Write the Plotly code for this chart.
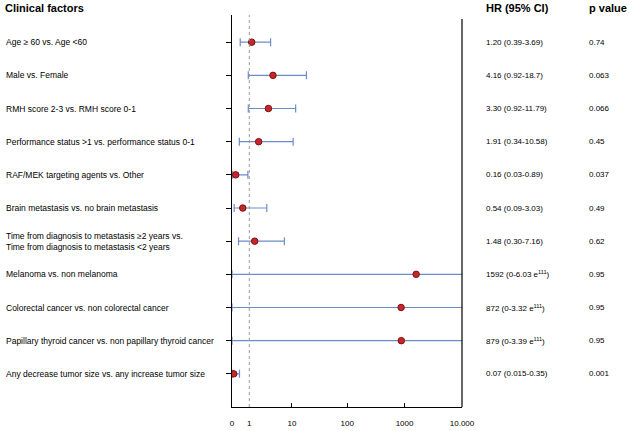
import plotly.graph_objects as go

factors = [
    "Age \u2265 60 vs. Age <60",
    "Male vs. Female",
    "RMH score 2-3 vs. RMH score 0-1",
    "Performance status >1 vs. performance status 0-1",
    "RAF/MEK targeting agents vs. Other",
    "Brain metastasis vs. no brain metastasis",
    "Time from diagnosis to metastasis \u22652 years vs.<br>Time from diagnosis to metastasis <2 years",
    "Melanoma vs. non melanoma",
    "Colorectal cancer vs. non colorectal cancer",
    "Papillary thyroid cancer vs. non papillary thyroid cancer",
    "Any decrease tumor size vs. any increase tumor size",
]
hr = [1.20, 4.16, 3.30, 1.91, 0.16, 0.54, 1.48, 1592, 872, 879, 0.07]
ci_low = [0.39, 0.92, 0.92, 0.34, 0.03, 0.09, 0.30, 0, 0, 0, 0.015]
ci_high = [3.69, 18.7, 11.79, 10.58, 0.89, 3.03, 7.16, 6.03e111, 3.32e111, 3.39e111, 0.35]
hr_text = [
    "1.20 (0.39-3.69)", "4.16 (0.92-18.7)", "3.30 (0.92-11.79)", "1.91 (0.34-10.58)",
    "0.16 (0.03-0.89)", "0.54 (0.09-3.03)", "1.48 (0.30-7.16)",
    "1592 (0-6.03 e<sup>111</sup>)", "872 (0-3.32 e<sup>111</sup>)", "879 (0-3.39 e<sup>111</sup>)",
    "0.07 (0.015-0.35)",
]
p_values = ["0.74", "0.063", "0.066", "0.45", "0.037", "0.49", "0.62", "0.95", "0.95", "0.95", "0.001"]
tick_vals = [0, 1, 10, 100, 1000, 10000]
tick_text = ["0", "1", "10", "100", "1000", "10.000"]

n = len(factors)
ypos = list(range(n, 0, -1))
# axis shows log10(HR + 1)
xvals = [h + 1 for h in hr]
err_plus = [hi - h for hi, h in zip(ci_high, hr)]
err_minus = [h - lo for h, lo in zip(hr, ci_low)]

W, H = 629, 431
L, R, T, B = 232, 167, 15, 24
pw = W - L - R

def px2paper(px):
    return (px - L) / pw

fig = go.Figure()
fig.add_trace(go.Scatter(
    x=xvals, y=ypos, mode="markers",
    marker=dict(size=6.5, color="#c8262b", line=dict(color="#7a1212", width=1)),
    error_x=dict(type="data", array=err_plus, arrayminus=err_minus, symmetric=False,
                 color="#6c8bcb", thickness=1.2, width=4),
    cliponaxis=True, showlegend=False, hoverinfo="skip",
))
# dummy trace for second x axis (inside ticks)
fig.add_trace(go.Scatter(x=[1], y=[1], xaxis="x2", mode="markers",
                         marker=dict(opacity=0), showlegend=False, hoverinfo="skip"))

# reference line at HR = 1
fig.add_shape(type="line", xref="x", yref="paper", x0=2, x1=2, y0=0, y1=1,
              line=dict(color="#999999", width=1, dash="dot"))

rng = [0, 4]
fig.update_layout(
    width=W, height=H, margin=dict(l=L, r=R, t=T, b=B, autoexpand=False),
    paper_bgcolor="white", plot_bgcolor="white",
    font=dict(family="Liberation Sans, Arial, sans-serif", color="#000000"),
    xaxis=dict(type="log", range=rng, tickvals=[v + 1 for v in tick_vals], ticktext=tick_text,
               ticks="", showgrid=False, zeroline=False, showline=True, linecolor="#000000",
               linewidth=1, tickfont=dict(size=8), ticklabelstandoff=8, automargin=False),
    xaxis2=dict(type="log", range=rng, overlaying="x", anchor="y", side="bottom",
                tickvals=[v + 1 for v in [10, 100, 1000]], ticks="inside", ticklen=4,
                tickcolor="#000000", showticklabels=False, showgrid=False, zeroline=False,
                showline=False, automargin=False),
    yaxis=dict(range=[0, n + 0.82], tickvals=ypos, showticklabels=False, ticks="outside",
               ticklen=5, tickcolor="#000000", showgrid=False, zeroline=False,
               showline=True, linecolor="#000000", linewidth=1, mirror=False,
               automargin=False),
)

# right border line
fig.add_shape(type="line", xref="paper", yref="paper", x0=1, x1=1, y0=0, y1=0.99,
              line=dict(color="#000000", width=1.2))

ann = []
ann.append(dict(text="<b>Clinical factors</b>", x=px2paper(3), y=8, xanchor="left"))
ann.append(dict(text="<b>HR (95% CI)</b>", x=px2paper(484), y=8, xanchor="left"))
ann.append(dict(text="<b>p value</b>", x=px2paper(587), y=8, xanchor="left"))
annotations = []
for a in ann:
    annotations.append(dict(text=a["text"], xref="paper", yref="paper", x=a["x"],
                            y=1 - (a["y"] - T) / (H - T - B), xanchor="left", yanchor="middle",
                            showarrow=False, font=dict(size=11)))
for i, (f, t, p) in enumerate(zip(factors, hr_text, p_values)):
    yy = ypos[i]
    annotations.append(dict(text=f, xref="paper", yref="y", x=px2paper(4), y=yy,
                            xanchor="left", yanchor="middle", showarrow=False, align="left",
                            font=dict(size=8.5)))
    annotations.append(dict(text=t, xref="paper", yref="y", x=px2paper(484), y=yy,
                            xanchor="left", yanchor="middle", showarrow=False,
                            font=dict(size=8)))
    annotations.append(dict(text=p, xref="paper", yref="y", x=px2paper(587), y=yy,
                            xanchor="left", yanchor="middle", showarrow=False,
                            font=dict(size=8)))
fig.update_layout(annotations=annotations)

fig.write_html("out.html", config={"displayModeBar": False},
               post_script="document.body.style.margin='0';")
